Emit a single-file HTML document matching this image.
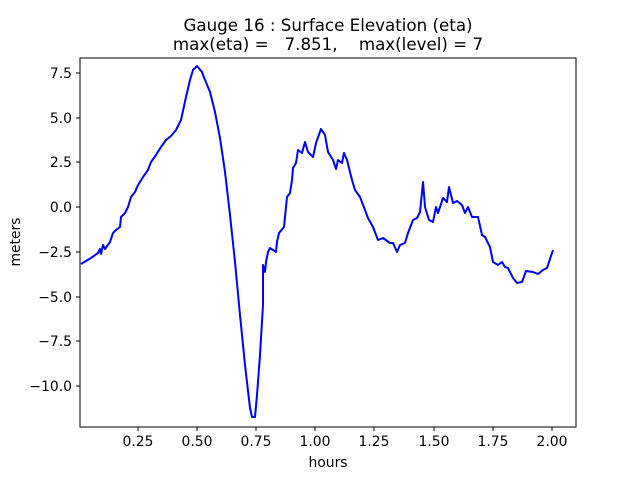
<!DOCTYPE html>
<html><head><meta charset="utf-8"><style>body{margin:0;background:#fff}svg{display:block}text{font-family:"DejaVu Sans","Liberation Sans",sans-serif;fill:#000}</style></head><body>
<svg width="640" height="480" viewBox="0 0 640 480">
<rect width="640" height="480" fill="#fff"/>
<polyline fill="none" stroke="#0000ff" stroke-width="2" stroke-linejoin="round" points="81,264 91,258 98,253 100,249 101,254 103,245 105,249 110,242 113,233 116,230 120,227 121,217 125,213 128,207 131,197 135,192 138,185 140,182 143,177 148,170 151,162 156,155 161,147 166,140 171,136 176,130 181,120 186,97 190,80 193,70 197,66 202,72 203,75 210,92 215,112 220,138 225,172 230,215 235,262 240,315 245,365 250,408 252,417 255,417 257,395 260,355 263,305 263,265 265,272 266,262 268,252 270,248 276,252 277,242 279,233 284,227 287,197 290,193 292,180 293,168 296,163 298,150 302,153 305,142 308,152 313,157 316,143 321,129 325,135 328,152 333,160 336,169 338,160 342,163 344,153 347,160 352,180 355,190 360,197 365,210 368,218 373,227 378,240 383,238 390,243 393,243 397,252 400,245 405,243 408,233 413,220 417,218 420,212 423,182 425,207 429,220 433,222 436,207 438,213 443,198 447,202 449,187 453,203 457,201 462,205 465,213 468,207 472,217 478,217 482,235 485,237 490,247 493,262 498,265 502,262 505,267 508,268 513,278 517,283 522,282 526,271 533,272 538,274 543,270 547,268 553,250"/>
<rect x="80" y="58" width="496" height="369" fill="none" stroke="#000" stroke-width="1"/>
<g stroke="#000" stroke-width="1">
<line x1="138" y1="427" x2="138" y2="431"/><line x1="197" y1="427" x2="197" y2="431"/><line x1="256" y1="427" x2="256" y2="431"/><line x1="315" y1="427" x2="315" y2="431"/><line x1="374" y1="427" x2="374" y2="431"/><line x1="434" y1="427" x2="434" y2="431"/><line x1="493" y1="427" x2="493" y2="431"/><line x1="552" y1="427" x2="552" y2="431"/>
<line x1="76" y1="73" x2="80" y2="73"/><line x1="76" y1="118" x2="80" y2="118"/><line x1="76" y1="162" x2="80" y2="162"/><line x1="76" y1="207" x2="80" y2="207"/><line x1="76" y1="252" x2="80" y2="252"/><line x1="76" y1="297" x2="80" y2="297"/><line x1="76" y1="341" x2="80" y2="341"/><line x1="76" y1="386" x2="80" y2="386"/>
</g>
<g font-size="13.9" text-anchor="middle">
<text x="138" y="446">0.25</text><text x="197" y="446">0.50</text><text x="256" y="446">0.75</text><text x="315" y="446">1.00</text><text x="374" y="446">1.25</text><text x="434" y="446">1.50</text><text x="493" y="446">1.75</text><text x="552" y="446">2.00</text>
</g>
<g font-size="13.9" text-anchor="end">
<text x="72" y="78">7.5</text><text x="72" y="123">5.0</text><text x="72" y="167">2.5</text><text x="72" y="212">0.0</text><text x="72" y="257">−2.5</text><text x="72" y="302">−5.0</text><text x="72" y="346">−7.5</text><text x="72" y="391">−10.0</text>
</g>
<text x="328" y="467" font-size="13.9" text-anchor="middle">hours</text>
<text transform="translate(20,242) rotate(-90)" font-size="13.9" text-anchor="middle">meters</text>
<text x="328" y="31" font-size="16.7" text-anchor="middle">Gauge 16 : Surface Elevation (eta)</text>
<text x="328" y="50" font-size="16.7" text-anchor="middle" xml:space="preserve">max(eta) =   7.851,    max(level) = 7</text>
</svg>
</body></html>
